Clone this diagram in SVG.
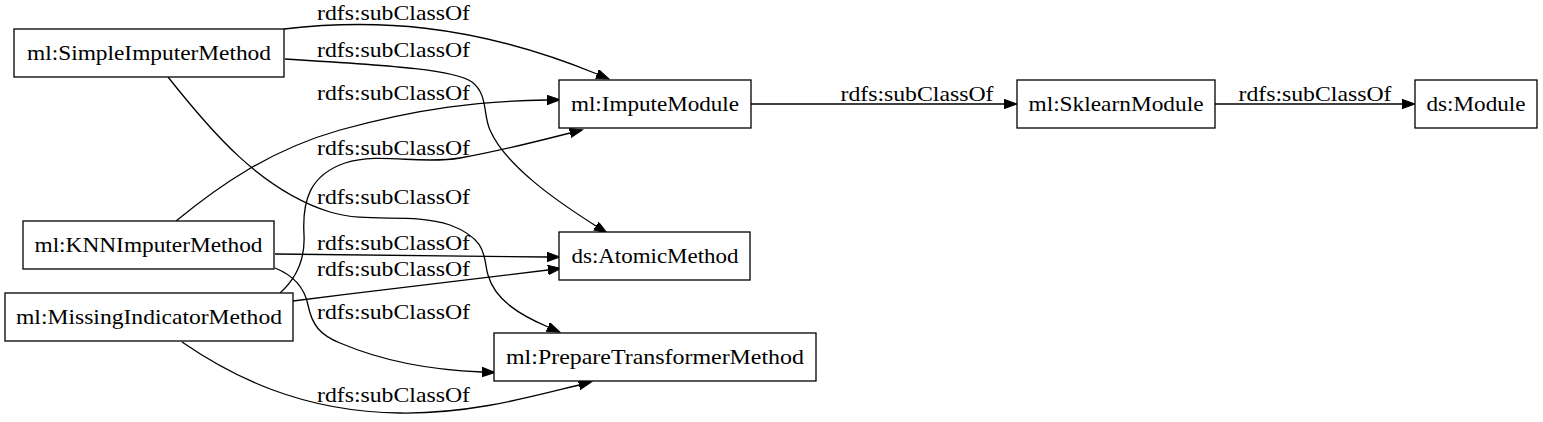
<svg xmlns="http://www.w3.org/2000/svg" width="1543" height="422" viewBox="0 0 1543 422">
<style>
  .node rect { fill: #ffffff; stroke: #000000; stroke-width: 1.3; }
  .node text { font-family: "Liberation Serif", "Times New Roman", serif; font-size: 21.5px; fill: #000000; text-anchor: middle; }
  .edge path { fill: none; stroke: #000000; stroke-width: 1.3; }
  .lbl { font-family: "Liberation Serif", "Times New Roman", serif; font-size: 21.5px; fill: #000000; text-anchor: middle; }
</style>
<defs>
  <marker id="arr" markerUnits="userSpaceOnUse" markerWidth="14" markerHeight="11" refX="0" refY="4.7" orient="auto">
    <path d="M0,0 L13,4.7 L0,9.4 Z" fill="#000000" stroke="#000000" stroke-width="1"/>
  </marker>
</defs>
<rect x="0" y="0" width="1543" height="422" fill="#ffffff"/>
<g id="connectors" class="edge">
  <path d="M284,29 C370,19 470,22 597,74" marker-end="url(#arr)"/>
  <path d="M285,59 C400,66 455,70 472,82 C488,94 483,115 490,130 C505,165 555,200 596,226" marker-end="url(#arr)"/>
  <path d="M168,77 C210,130 260,190 330,212 C370,224 410,212 450,225 C490,240 483,260 488,275 C495,300 520,315 548,327" marker-end="url(#arr)"/>
  <path d="M176,221 C220,185 270,150 340,130 C420,108 480,101 547,100" marker-end="url(#arr)"/>
  <path d="M275,254 C380,256 470,257 547,257" marker-end="url(#arr)"/>
  <path d="M275,268 C295,276 305,290 308,305 C312,325 320,335 340,343 C380,360 430,370 482,372" marker-end="url(#arr)"/>
  <path d="M280,293 C300,275 305,255 304,235 C302,200 310,175 345,163 C380,152 420,165 460,158 C500,151 535,142 570,133" marker-end="url(#arr)"/>
  <path d="M293,301 C380,290 470,280 548,270" marker-end="url(#arr)"/>
  <path d="M182,342 C230,375 300,412 400,413 C470,414 530,397 579,385" marker-end="url(#arr)"/>
  <path d="M751,104 L1004,104" marker-end="url(#arr)"/>
  <path d="M1215,104 L1402,104" marker-end="url(#arr)"/>
  <text class="lbl" x="393.5" y="20" textLength="153" lengthAdjust="spacingAndGlyphs">rdfs:subClassOf</text>
  <text class="lbl" x="393.5" y="57" textLength="153" lengthAdjust="spacingAndGlyphs">rdfs:subClassOf</text>
  <text class="lbl" x="393.5" y="100" textLength="153" lengthAdjust="spacingAndGlyphs">rdfs:subClassOf</text>
  <text class="lbl" x="393.5" y="155" textLength="153" lengthAdjust="spacingAndGlyphs">rdfs:subClassOf</text>
  <text class="lbl" x="393.5" y="204" textLength="153" lengthAdjust="spacingAndGlyphs">rdfs:subClassOf</text>
  <text class="lbl" x="393.5" y="250" textLength="153" lengthAdjust="spacingAndGlyphs">rdfs:subClassOf</text>
  <text class="lbl" x="393.5" y="276" textLength="153" lengthAdjust="spacingAndGlyphs">rdfs:subClassOf</text>
  <text class="lbl" x="393.5" y="319" textLength="153" lengthAdjust="spacingAndGlyphs">rdfs:subClassOf</text>
  <text class="lbl" x="393.5" y="402" textLength="153" lengthAdjust="spacingAndGlyphs">rdfs:subClassOf</text>
  <text class="lbl" x="917" y="101" textLength="153" lengthAdjust="spacingAndGlyphs">rdfs:subClassOf</text>
  <text class="lbl" x="1315" y="101" textLength="153" lengthAdjust="spacingAndGlyphs">rdfs:subClassOf</text>
</g>
<g id="node-SimpleImputerMethod" class="node">
  <rect x="14" y="29" width="270" height="48"/>
  <text x="149" y="59.5" textLength="244" lengthAdjust="spacingAndGlyphs">ml:SimpleImputerMethod</text>
</g>
<g id="node-KNNImputerMethod" class="node">
  <rect x="23" y="221" width="251" height="48"/>
  <text x="148.5" y="251.5" textLength="228" lengthAdjust="spacingAndGlyphs">ml:KNNImputerMethod</text>
</g>
<g id="node-MissingIndicatorMethod" class="node">
  <rect x="5" y="293" width="288" height="48"/>
  <text x="149" y="323.5" textLength="266" lengthAdjust="spacingAndGlyphs">ml:MissingIndicatorMethod</text>
</g>
<g id="node-ImputeModule" class="node">
  <rect x="559" y="80" width="192" height="48"/>
  <text x="655" y="110.5" textLength="168" lengthAdjust="spacingAndGlyphs">ml:ImputeModule</text>
</g>
<g id="node-AtomicMethod" class="node">
  <rect x="559" y="232" width="191" height="48"/>
  <text x="655" y="262.5" textLength="167" lengthAdjust="spacingAndGlyphs">ds:AtomicMethod</text>
</g>
<g id="node-PrepareTransformerMethod" class="node">
  <rect x="494" y="333" width="322" height="48"/>
  <text x="655" y="363.5" textLength="298" lengthAdjust="spacingAndGlyphs">ml:PrepareTransformerMethod</text>
</g>
<g id="node-SklearnModule" class="node">
  <rect x="1017" y="80" width="198" height="48"/>
  <text x="1116" y="110.5" textLength="175" lengthAdjust="spacingAndGlyphs">ml:SklearnModule</text>
</g>
<g id="node-Module" class="node">
  <rect x="1415" y="80" width="122" height="48"/>
  <text x="1476" y="110.5" textLength="99" lengthAdjust="spacingAndGlyphs">ds:Module</text>
</g>
</svg>
